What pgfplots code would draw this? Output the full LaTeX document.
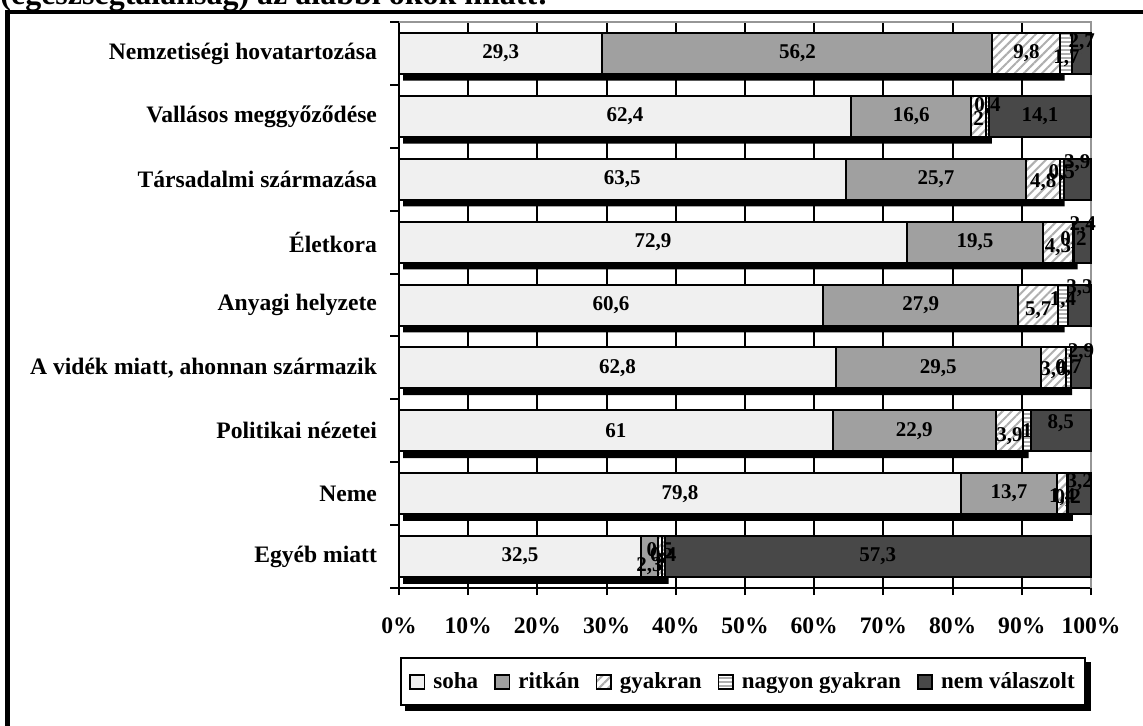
\documentclass[border=0pt]{standalone}
\usepackage{fontspec}
\setmainfont{Liberation Serif}
\usepackage{pgfplots}
\usepackage{pgfplotstable}
\pgfplotsset{compat=1.18}
\usetikzlibrary{patterns.meta}

\definecolor{soha}{RGB}{240,240,240}
\definecolor{ritkan}{RGB}{160,160,160}
\definecolor{nem}{RGB}{72,72,72}
\definecolor{hatch}{RGB}{175,175,175}
\definecolor{frame}{RGB}{150,150,150}

% values per row (top to bottom); d1..d5 = label lift in pt, sh = end of the bar shadow in %
\pgfplotstableread{
soha ritkan gyakran nagyon nem  d1 d2 d3   d4   d5  sh
29.3 56.2   9.8     1.7    2.7  0  0  0    -2.5 5.5 96.2
62.4 16.6   2       0.4    14.1 0  0  -1   5    0   85.7
63.5 25.7   4.8     0.5    3.9  0  0  -1.5 3    8   96.2
72.9 19.5   4.3     0.2    2.4  0  0  -2.5 1    8.5 98.1
60.6 27.9   5.7     1.4    3.3  0  0  -2.5 2.5  8.5 96.2
62.8 29.5   3.6     0.7    2.9  0  0  -1   0    8   97.3
61   22.9   3.9     1      8.5  0  0  -2.5 0    4   91.0
79.8 13.7   1.4     0.2    3.2  0  0  -2   -2   5.5 97.4
32.5 2.3    0.5     0.4    57.3 0  -5 2.5  0    0   39.0
}\data
\pgfplotstablecreatecol[create col/expr={\thisrow{soha}+\thisrow{ritkan}}]{c2}\data
\pgfplotstablecreatecol[create col/expr={\thisrow{c2}+\thisrow{gyakran}}]{c3}\data
\pgfplotstablecreatecol[create col/expr={\thisrow{c3}+\thisrow{nagyon}}]{c4}\data
\pgfplotstablecreatecol[create col/expr={\thisrow{c4}+\thisrow{nem}}]{tot}\data

\pgfplotsset{
  seg/.style={xbar, bar width=20.5pt, bar shift=0pt, draw=black, line width=1pt},
  labl/.style={forget plot, only marks, mark=*, mark size=0pt,
    mark options={draw=none, fill=none},
    visualization depends on={\thisrow{#1} \as \dy},
    nodes near coords={\pgfmathprintnumber[use comma,fixed,precision=1]{\pgfplotspointmeta}},
    nodes near coords style={anchor=center, text=black, inner sep=0pt,
      font=\fontsize{10.5}{12}\selectfont\bfseries, yshift=\dy pt}},
}

\begin{document}
\begin{tikzpicture}
\useasboundingbox (0,0) rectangle (571.5pt,-363pt);
\clip (0,0) rectangle (571.5pt,-363pt);

\node[anchor=base west, inner sep=0pt, font=\fontsize{16}{19}\selectfont\bfseries]
  at (0pt,-2.5pt) {(egészségtalanság) az alábbi okok miatt:};
\draw[line width=2.3pt, line join=miter] (3.75pt,-400pt) -- (3.75pt,-6pt) -- (700pt,-6pt);

\begin{axis}[
  at={(199.5pt,-294pt)}, anchor=south west,
  width=346pt, height=283pt, scale only axis,
  xmin=0, xmax=100, ymin=-0.5, ymax=8.5,
  axis x line*=bottom, axis y line*=left,
  axis line style={black, line width=1pt},
  xtick={0,10,...,100},
  xticklabel={\pgfmathprintnumber{\tick}\%},
  xticklabel style={yshift=-8pt},
  xmajorgrids, major grid style={black, line width=1pt},
  tick align=outside, major tick length=3.5pt,
  tick style={black, line width=1pt},
  ytick={0,...,8},
  yticklabels={Egyéb miatt, Neme, Politikai nézetei, {A vidék miatt, ahonnan származik},
    Anyagi helyzete, Életkora, Társadalmi származása, Vallásos meggyőződése,
    Nemzetiségi hovatartozása},
  ytick style={draw=none},
  yticklabel style={xshift=-4pt},
  extra y ticks={-0.5,0.5,...,8.5}, extra y tick labels={},
  extra y tick style={ytick style={draw=black}, major tick length=4.5pt},
  ticklabel style={font=\fontsize{11.8}{14}\selectfont\bfseries},
  /pgf/number format/assume math mode=true,
  clip=false,
  reverse legend,
  legend columns=-1,
  legend style={name=leg, at={(axis description cs:0.497,-0.166)}, anchor=center,
    draw=black, line width=1pt, fill=white, inner ysep=5pt, inner xsep=4pt,
    nodes={inner xsep=1pt},
    font=\fontsize{11.5}{13.8}\selectfont\bfseries,
    /tikz/every odd column/.append style={column sep=3pt},
    /tikz/every even column/.append style={column sep=7pt}},
  legend image code/.code={\draw[#1, draw=black, line width=0.9pt] (0pt,-3.6pt) rectangle (7.2pt,3.6pt);},
]
\draw[frame, line width=1pt] (axis description cs:0,1) -- (axis description cs:1,1) -- (axis description cs:1,0);

% shadow under each bar
\addplot[xbar, bar width=4pt, bar shift=0pt, fill=black, draw=none, forget plot, xshift=2pt]
  table[x expr=\thisrow{sh}-0.6, y expr=8-\coordindex-0.37]{\data};

\addplot[seg, fill=nem] table[x expr=100, y expr=8-\coordindex]{\data};
\addlegendentry{nem válaszolt}
\addplot[seg, fill=white, postaction={pattern={Lines[angle=0, distance=2pt, line width=0.9pt]}, pattern color=hatch}]
  table[x expr=\thisrow{c4}*100/\thisrow{tot}, y expr=8-\coordindex]{\data};
\addlegendentry{nagyon gyakran}
\addplot[seg, fill=white, postaction={pattern={Lines[angle=45, distance=3.2pt, line width=1pt]}, pattern color=hatch}]
  table[x expr=\thisrow{c3}*100/\thisrow{tot}, y expr=8-\coordindex]{\data};
\addlegendentry{gyakran}
\addplot[seg, fill=ritkan] table[x expr=\thisrow{c2}*100/\thisrow{tot}, y expr=8-\coordindex]{\data};
\addlegendentry{ritkán}
\addplot[seg, fill=soha] table[x expr=\thisrow{soha}*100/\thisrow{tot}, y expr=8-\coordindex]{\data};
\addlegendentry{soha}

% value labels at the middle of each segment
\addplot[labl=d1, point meta=\thisrow{soha}]
  table[x expr=\thisrow{soha}/2*100/\thisrow{tot}, y expr=8-\coordindex]{\data};
\addplot[labl=d2, point meta=\thisrow{ritkan}]
  table[x expr=(\thisrow{soha}+\thisrow{ritkan}/2)*100/\thisrow{tot}, y expr=8-\coordindex]{\data};
\addplot[labl=d3, point meta=\thisrow{gyakran}]
  table[x expr=(\thisrow{c2}+\thisrow{gyakran}/2)*100/\thisrow{tot}, y expr=8-\coordindex]{\data};
\addplot[labl=d4, point meta=\thisrow{nagyon}]
  table[x expr=(\thisrow{c3}+\thisrow{nagyon}/2)*100/\thisrow{tot}, y expr=8-\coordindex]{\data};
\addplot[labl=d5, point meta=\thisrow{nem}]
  table[x expr=(\thisrow{c4}+\thisrow{nem}/2)*100/\thisrow{tot}, y expr=8-\coordindex]{\data};
\end{axis}
% legend box shadow
\fill[black] ([xshift=2.5pt]leg.south west) rectangle ([xshift=2.5pt,yshift=-2.5pt]leg.south east);
\fill[black] ([yshift=-2.5pt]leg.north east) rectangle ([xshift=2.5pt,yshift=-2.5pt]leg.south east);
\end{tikzpicture}
\end{document}
